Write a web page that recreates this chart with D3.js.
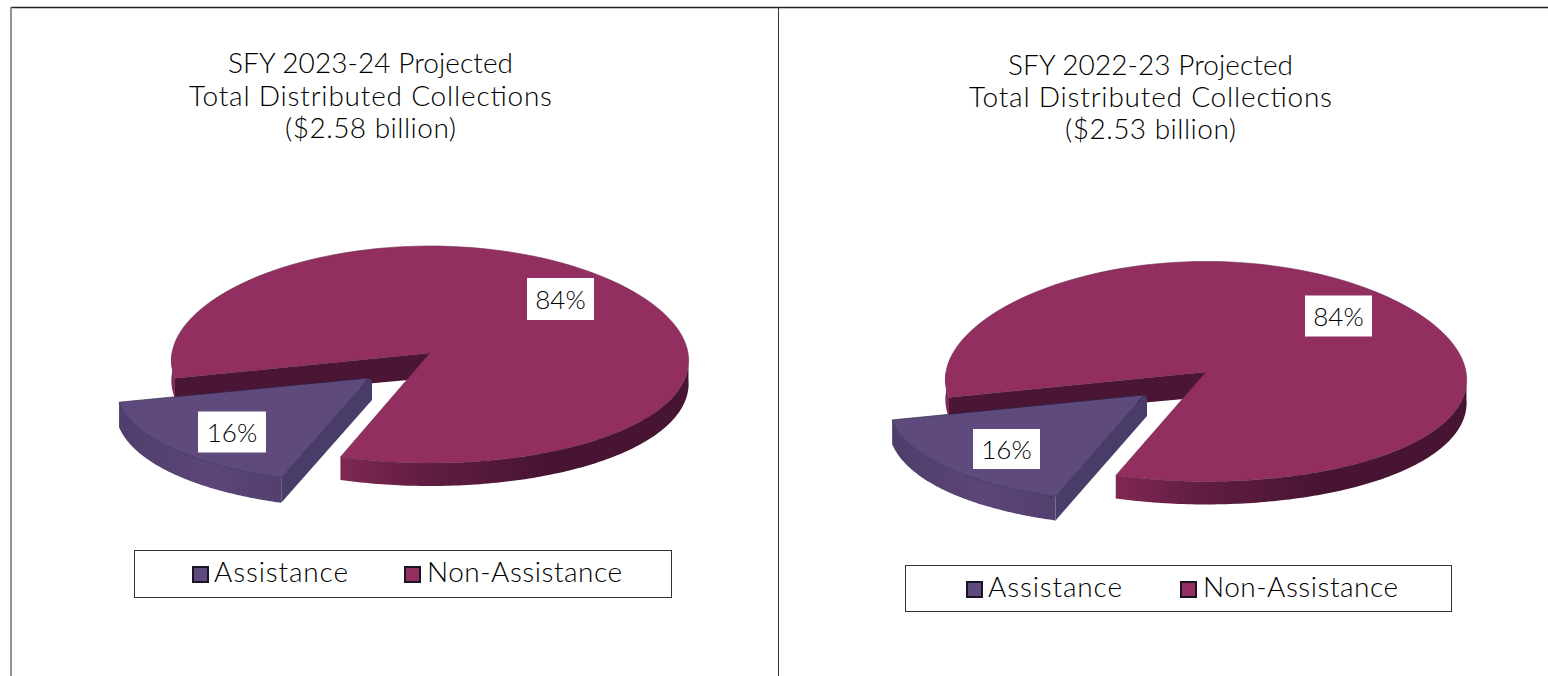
<!DOCTYPE html>
<html><head><meta charset="utf-8">
<style>html,body{margin:0;padding:0;background:#fff;overflow:hidden}svg{display:block}text{font-family:Lato,"Open Sans",sans-serif;fill:#000;font-weight:300}</style>
<script src="https://cdn.jsdelivr.net/npm/d3@7"></script></head><body>
<script>
const categories = ["Assistance", "Non-Assistance"];
const titleLine1 = ["SFY 2023-24 Projected", "SFY 2022-23 Projected"];
const titleLine2 = ["Total Distributed Collections", "Total Distributed Collections"];
const titleLine3 = ["($2.58 billion)", "($2.53 billion)"];
const valuesLeft = [16, 84];
const valuesRight = [16, 84];
const seriesValues = [valuesLeft, valuesRight];
const topColors = ["#5f4a7d", "#932f60"];

const W = 1548, H = 676;
const titleWidths = [285, 363, 171];
const legendWidths = [134, 195];
const panels = [
  {tx:370.5, ty:[64,97,129], cx:430, cy:353, rx:258, ry:108.5, py:.014, dep:23, sx:369, sy:378, sdep:25, ks:[.98,.96],
   lab:[[560.5,299,67,42],[232,432,68,41]], leg:[134,550,537,47], sw:[193,405], lx:[214,427], ly:573},
  {tx:1150.5, ty:[66,98,130], cx:1206, cy:372, rx:260, ry:110, py:-.005, dep:23, sx:1144, sy:395, sdep:24, ks:[.98,.98],
   lab:[[1338.5,316,67,41],[1006.5,449,67,40]], leg:[905,565,546,46], sw:[967,1181], lx:[988,1203], ly:588}
];
const svg = d3.select("body").append("svg").attr("width",W).attr("height",H);
const defs = svg.append("defs");
function grad(id,x1,x2,stops){
  const g=defs.append("linearGradient").attr("id",id).attr("gradientUnits","userSpaceOnUse")
    .attr("x1",x1).attr("x2",x2).attr("y1",0).attr("y2",0);
  stops.forEach(s=>g.append("stop").attr("offset",s[0]).attr("stop-color",s[1]));
}
// frame
const frame = svg.append("g");
frame.append("line").attr("x1",11).attr("x2",W).attr("y1",7.5).attr("y2",7.5).attr("stroke","#222").attr("stroke-width",1.3);
frame.append("line").attr("x1",11).attr("x2",11).attr("y1",7).attr("y2",H).attr("stroke","#777").attr("stroke-width",1.6);
frame.append("line").attr("x1",778.5).attr("x2",778.5).attr("y1",7).attr("y2",H).attr("stroke","#333");

const PX = 0.07, rad = d=>d*Math.PI/180;
const line = d3.line();
const pie = d3.pie().sort(null).startAngle(rad(199)).endAngle(rad(559));

panels.forEach((p,i)=>{
  const arcs = pie(seriesValues[i]);
  const aS = arcs[0], aN = arcs[1];
  const proj = (a,ox,oy,kx,ky)=>{
    const ux=Math.sin(a), uy=-Math.cos(a);
    return [ox+kx*p.rx*ux*(1+PX*uy), oy+ky*p.ry*uy*(1+p.py*uy)];
  };
  const sample=(a0,a1,ox,oy,kx,ky,d)=>d3.range(0,121).map(k=>{
    const q=proj(a0+(a1-a0)*k/120,ox,oy,kx,ky); return [q[0],q[1]+(d||0)];
  });
  grad("mw"+i,p.cx-90,p.cx+120,[[0,"#7f2753"],[.45,"#5e1c41"],[1,"#481433"]]);
  grad("mwl"+i,p.cx-p.rx,p.cx-p.rx+20,[[0,"#7d2a55"],[1,"#6d2149"]]);
  grad("sw"+i,p.sx-260,p.sx-60,[[0,"#4d3d6b"],[.5,"#5b4677"],[1,"#4f3d6b"]]);
  const g = svg.append("g");
  const mEnd = aN.endAngle, mStart = aN.startAngle;
  const wall=(a0,a1,ox,oy,kx,ky,d)=>line(sample(a0,a1,ox,oy,kx,ky,0).concat(sample(a1,a0,ox,oy,kx,ky,d)))+"Z";
  // main: outer wall, front part only
  g.append("path").attr("d",wall(rad(92),rad(199),p.cx,p.cy,1,1,p.dep)).attr("fill","url(#mw"+i+")");
  g.append("path").attr("d",wall(mStart,rad(270),p.cx,p.cy,1,1,p.dep-3)).attr("fill","url(#mwl"+i+")");
  // main: cut wall along the far edge of the gap
  const c0=[p.cx,p.cy], c1=proj(mStart,p.cx,p.cy,1,1);
  g.append("path").attr("d",line([c0,c1,[c1[0],c1[1]+p.dep],[c0[0],c0[1]+p.dep+2]])+"Z").attr("fill","#4b1535");
  // main top
  g.append("path").attr("d",line([c0].concat(sample(mStart,mEnd,p.cx,p.cy,1,1)))+"Z").attr("fill",topColors[1]).attr("stroke","#6a2a50").attr("stroke-width",.6);
  // exploded slice
  const a0=aS.startAngle,a1=aS.endAngle, ks=p.ks;
  const c=[p.sx,p.sy], b=proj(a0,p.sx,p.sy,ks[0],ks[1]);
  g.append("path").attr("d",line([c,b,[b[0],b[1]+p.sdep],[c[0]+3,c[1]+p.sdep-3],[c[0]+3,c[1]+3]])+"Z").attr("fill","#4a3c69");
  g.append("path").attr("d",wall(a0,a1,p.sx,p.sy,ks[0],ks[1],p.sdep)).attr("fill","url(#sw"+i+")");
  g.append("path").attr("d",line([c].concat(sample(a0,a1,p.sx,p.sy,ks[0],ks[1])))+"Z").attr("fill",topColors[0]).attr("stroke","#2f2745").attr("stroke-width",.7);
  // data labels
  [aN,aS].forEach((a,j)=>{
    const l=p.lab[j];
    g.append("rect").attr("x",l[0]-l[2]/2).attr("y",l[1]-l[3]/2).attr("width",l[2]).attr("height",l[3]).attr("fill","#fff");
    g.append("text").attr("x",l[0]).attr("y",l[1]+9.5).attr("text-anchor","middle").attr("font-size",26).text(a.data+"%");
  });
  // title
  [titleLine1,titleLine2,titleLine3].forEach((t,j)=>{
    g.append("text").attr("x",p.tx).attr("y",p.ty[j]+9).attr("text-anchor","middle").attr("font-size",28)
      .attr("textLength",titleWidths[j]).attr("lengthAdjust","spacing").text(t[i]);
  });
  // legend
  g.append("rect").attr("x",p.leg[0]+.5).attr("y",p.leg[1]+.5).attr("width",p.leg[2]).attr("height",p.leg[3]).attr("fill","#fff").attr("stroke","#333");
  categories.forEach((c,j)=>{
    g.append("rect").attr("x",p.sw[j]).attr("y",p.ly-6).attr("width",15).attr("height",15).attr("fill",topColors[j]).attr("stroke","#1c1424").attr("stroke-width",2);
    g.append("text").attr("x",p.lx[j]).attr("y",p.ly+9).attr("font-size",28)
      .attr("textLength",legendWidths[j]).attr("lengthAdjust","spacing").text(c);
  });
});
</script></body></html>
